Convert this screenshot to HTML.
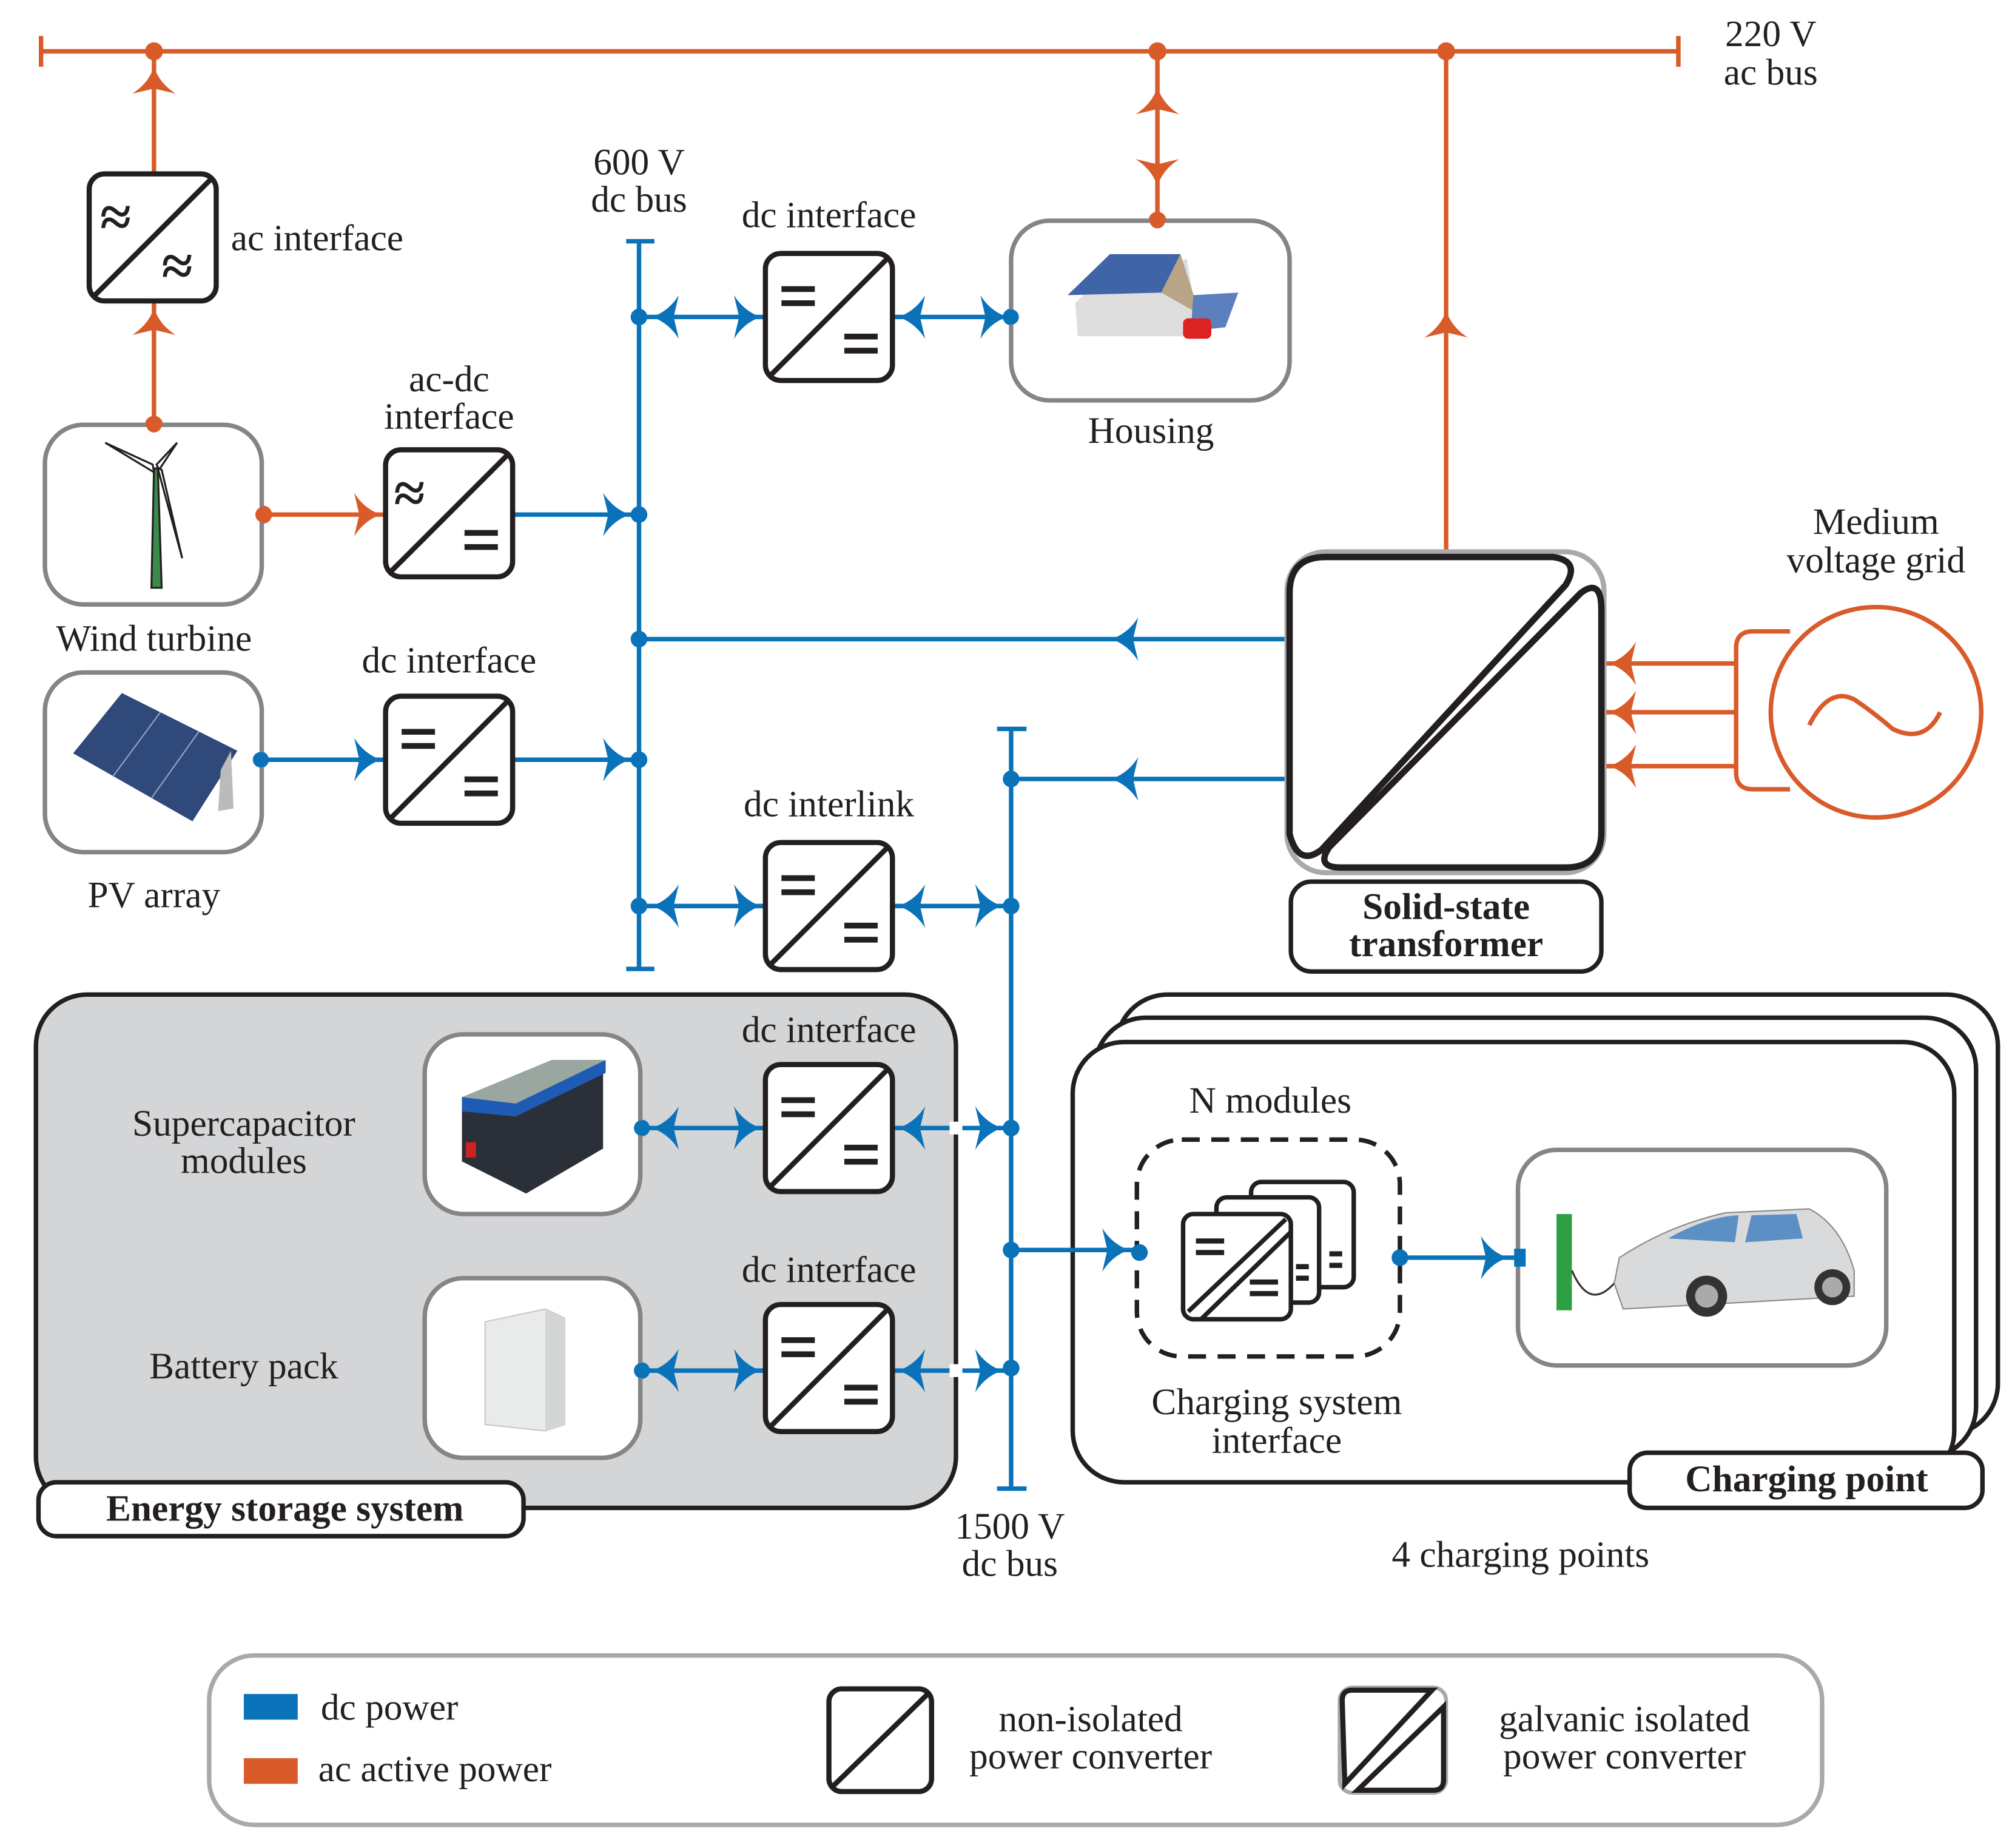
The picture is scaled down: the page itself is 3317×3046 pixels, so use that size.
<!DOCTYPE html>
<html><head><meta charset="utf-8"><style>
html,body{margin:0;padding:0;background:#fff;}
svg{display:block;}
text{font-family:"Liberation Serif",serif;fill:#231f20;}
</style></head><body>
<svg width="3317" height="3046" viewBox="0 0 1568 1440" preserveAspectRatio="none" xmlns="http://www.w3.org/2000/svg">
<defs>
<path id="ar" d="M0,0 C-9,-3 -16,-9 -21,-17 L-17,0 L-21,17 C-16,9 -9,3 0,0Z"/>
<g id="cv">
<rect x="1.5" y="1.5" width="99" height="99" rx="12" fill="#fff" stroke="#231f20" stroke-width="4"/>
<line x1="6" y1="96" x2="96" y2="6" stroke="#231f20" stroke-width="4"/>
</g>
<g id="eqTL"><rect x="14" y="27" width="26" height="4.5" fill="#231f20"/><rect x="14" y="38" width="26" height="4.5" fill="#231f20"/></g>
<g id="eqBR"><rect x="63" y="64" width="26" height="4.5" fill="#231f20"/><rect x="63" y="75" width="26" height="4.5" fill="#231f20"/></g>
</defs>
<rect width="1568" height="1440" fill="#fff"/>

<!-- ESS background -->
<rect x="28" y="775" width="717" height="400" rx="40" fill="#d4d5d7" stroke="#231f20" stroke-width="3.5"/>

<!-- Charging point stack -->
<g fill="#fff" stroke="#231f20" stroke-width="3.5">
<rect x="870" y="775" width="687" height="343" rx="40"/>
<rect x="853" y="793" width="687" height="343" rx="40"/>
<rect x="836" y="812" width="687" height="343" rx="40"/>
</g>
<rect x="886" y="888" width="205" height="169" rx="35" fill="none" stroke="#231f20" stroke-width="3.5" stroke-dasharray="14,9"/>
<g stroke="#231f20" stroke-width="3.5" fill="#fff">
<rect x="975" y="921" width="80" height="82" rx="8"/>
<rect x="948" y="933" width="80" height="82" rx="8"/>
<rect x="922" y="946" width="84" height="82" rx="8"/>
</g>
<g stroke="#231f20" stroke-width="3.5">
<line x1="926" y1="1022" x2="1002" y2="950"/><line x1="936" y1="1028" x2="1006" y2="960"/>
</g>
<g fill="#231f20">
<rect x="932" y="965" width="22" height="4"/><rect x="932" y="974" width="22" height="4"/>
<rect x="974" y="997" width="22" height="4"/><rect x="974" y="1006" width="22" height="4"/>
<rect x="1010" y="985" width="10" height="4"/><rect x="1010" y="994" width="10" height="4"/>
<rect x="1036" y="975" width="10" height="4"/><rect x="1036" y="984" width="10" height="4"/>
</g>
<rect x="1183" y="896" width="287" height="168" rx="30" fill="#fff" stroke="#858585" stroke-width="3.5"/>
<!-- charger + car -->
<rect x="1213" y="946" width="12" height="75" fill="#2ea043"/>
<path d="M1225,990 Q1240,1025 1262,995" fill="none" stroke="#333" stroke-width="1.5"/>
<g>
<path d="M1258,1000 L1262,980 Q1300,955 1345,945 L1410,942 Q1435,955 1445,990 L1445,1010 L1265,1020 Z" fill="#d9dadb" stroke="#888"/>
<path d="M1300,965 Q1330,948 1355,947 L1352,968 Z" fill="#5c8fc4"/>
<path d="M1365,947 L1400,946 L1405,965 L1360,968 Z" fill="#5c8fc4"/>
<circle cx="1330" cy="1010" r="16" fill="#333"/><circle cx="1330" cy="1010" r="9" fill="#aaa"/>
<circle cx="1428" cy="1003" r="14" fill="#333"/><circle cx="1428" cy="1003" r="8" fill="#aaa"/>
</g>

<!-- ac bus -->
<g stroke="#d95b2a" stroke-width="3.5" fill="none">
<line x1="32" y1="40" x2="1308" y2="40"/>
<line x1="32" y1="28" x2="32" y2="52"/>
<line x1="1308" y1="28" x2="1308" y2="52"/>
<line x1="120" y1="40" x2="120" y2="331"/>
<line x1="902" y1="40" x2="902" y2="172"/>
<line x1="1127" y1="40" x2="1127" y2="432"/>
<line x1="205" y1="401" x2="299" y2="401"/>
<line x1="1250" y1="517" x2="1353" y2="517"/>
<line x1="1250" y1="555" x2="1353" y2="555"/>
<line x1="1250" y1="597" x2="1353" y2="597"/>
<path d="M1395,492 L1366,492 Q1353,492 1353,505 L1353,602 Q1353,615 1366,615 L1395,615"/>
<ellipse cx="1462" cy="555" rx="82" ry="82"/>
<path d="M1410,565 Q1425,535 1445,545 Q1460,555 1475,568 Q1500,580 1512,555"/>
</g>
<g fill="#d95b2a">
<circle cx="120" cy="40" r="7"/><circle cx="902" cy="40" r="7"/><circle cx="1127" cy="40" r="7"/>
<circle cx="120" cy="331" r="7"/><circle cx="902" cy="172" r="7"/><circle cx="205" cy="401" r="7"/>
<use href="#ar" transform="translate(120,52) rotate(-90)"/>
<use href="#ar" transform="translate(120,240) rotate(-90)"/>
<use href="#ar" transform="translate(902,68) rotate(-90)"/>
<use href="#ar" transform="translate(902,145) rotate(90)"/>
<use href="#ar" transform="translate(1127,242) rotate(-90)"/>
<use href="#ar" transform="translate(297,401)"/>
<use href="#ar" transform="translate(1254,517) rotate(180)"/>
<use href="#ar" transform="translate(1254,555) rotate(180)"/>
<use href="#ar" transform="translate(1254,597) rotate(180)"/>
</g>

<!-- dc lines -->
<g stroke="#0a72b9" stroke-width="3.5" fill="none">
<line x1="498" y1="188" x2="498" y2="755"/>
<line x1="488" y1="188" x2="510" y2="188"/><line x1="488" y1="755" x2="510" y2="755"/>
<line x1="788" y1="568" x2="788" y2="1160"/>
<line x1="777" y1="568" x2="800" y2="568"/><line x1="777" y1="1160" x2="800" y2="1160"/>
<line x1="498" y1="247" x2="788" y2="247"/>
<line x1="401" y1="401" x2="498" y2="401"/>
<line x1="498" y1="498" x2="1003" y2="498"/>
<line x1="203" y1="592" x2="498" y2="592"/>
<line x1="498" y1="706" x2="788" y2="706"/>
<line x1="788" y1="607" x2="1003" y2="607"/>
<line x1="500" y1="879" x2="788" y2="879"/>
<line x1="500" y1="1068" x2="788" y2="1068"/>
<line x1="788" y1="974" x2="888" y2="974"/>
<line x1="1091" y1="980" x2="1183" y2="980"/>
</g>
<g fill="#0a72b9">
<circle cx="498" cy="247" r="6.5"/><circle cx="498" cy="401" r="6.5"/><circle cx="498" cy="498" r="6.5"/>
<circle cx="498" cy="592" r="6.5"/><circle cx="498" cy="706" r="6.5"/><circle cx="788" cy="247" r="6.5"/>
<circle cx="203" cy="592" r="6.5"/>
<circle cx="788" cy="607" r="6.5"/><circle cx="788" cy="706" r="6.5"/><circle cx="788" cy="879" r="6.5"/>
<circle cx="788" cy="974" r="6.5"/><circle cx="788" cy="1066" r="6.5"/>
<circle cx="500" cy="879" r="6.5"/><circle cx="500" cy="1068" r="6.5"/>
<circle cx="888" cy="976" r="6.5"/><circle cx="1091" cy="980" r="6.5"/>
<rect x="1180" y="973" width="9" height="14"/>
<use href="#ar" transform="translate(508,247) rotate(180)"/>
<use href="#ar" transform="translate(593,247)"/>
<use href="#ar" transform="translate(700,247) rotate(180)"/>
<use href="#ar" transform="translate(785,247)"/>
<use href="#ar" transform="translate(491,401)"/>
<use href="#ar" transform="translate(866,498) rotate(180)"/>
<use href="#ar" transform="translate(297,592)"/>
<use href="#ar" transform="translate(491,592)"/>
<use href="#ar" transform="translate(508,706) rotate(180)"/>
<use href="#ar" transform="translate(593,706)"/>
<use href="#ar" transform="translate(700,706) rotate(180)"/>
<use href="#ar" transform="translate(781,706)"/>
<use href="#ar" transform="translate(866,607) rotate(180)"/>
<use href="#ar" transform="translate(508,879) rotate(180)"/>
<use href="#ar" transform="translate(593,879)"/>
<use href="#ar" transform="translate(700,879) rotate(180)"/>
<use href="#ar" transform="translate(781,879)"/>
<use href="#ar" transform="translate(508,1068) rotate(180)"/>
<use href="#ar" transform="translate(593,1068)"/>
<use href="#ar" transform="translate(700,1068) rotate(180)"/>
<use href="#ar" transform="translate(781,1068)"/>
<use href="#ar" transform="translate(880,974)"/>
<use href="#ar" transform="translate(1175,980)"/>
</g>
<rect x="740" y="874" width="10" height="10" fill="#fff"/>
<rect x="740" y="1063" width="10" height="10" fill="#fff"/>

<!-- converters -->
<g transform="translate(68,134)"><use href="#cv"/><text x="10" y="50" font-size="44" font-weight="bold">≈</text><text x="58" y="88" font-size="44" font-weight="bold">≈</text></g>
<g transform="translate(299,349)"><use href="#cv"/><text x="8" y="50" font-size="44" font-weight="bold">≈</text><use href="#eqBR"/></g>
<g transform="translate(299,541)"><use href="#cv"/><use href="#eqTL"/><use href="#eqBR"/></g>
<g transform="translate(595,196)"><use href="#cv"/><use href="#eqTL"/><use href="#eqBR"/></g>
<g transform="translate(595,655)"><use href="#cv"/><use href="#eqTL"/><use href="#eqBR"/></g>
<g transform="translate(595,828)"><use href="#cv"/><use href="#eqTL"/><use href="#eqBR"/></g>
<g transform="translate(595,1015)"><use href="#cv"/><use href="#eqTL"/><use href="#eqBR"/></g>

<!-- image boxes -->
<g fill="#fff" stroke="#858585" stroke-width="3.5">
<rect x="35" y="331" width="169" height="140" rx="30"/>
<rect x="35" y="524" width="169" height="140" rx="30"/>
<rect x="788" y="172" width="217" height="140" rx="30"/>
<rect x="331" y="806" width="168" height="140" rx="30"/>
<rect x="331" y="996" width="168" height="140" rx="30"/>
</g>
<circle cx="120" cy="331" r="6" fill="#d95b2a"/>
<circle cx="902" cy="172" r="6" fill="#d95b2a"/>
<circle cx="205" cy="401" r="6" fill="#d95b2a"/>
<circle cx="203" cy="592" r="6" fill="#0a72b9"/>
<circle cx="788" cy="247" r="6" fill="#0a72b9"/>
<circle cx="500" cy="879" r="6" fill="#0a72b9"/>
<circle cx="500" cy="1068" r="6" fill="#0a72b9"/>
<!-- wind turbine -->
<g stroke="#231f20" stroke-width="1.5" fill="#fff">
<path d="M118,458 L120,365 L123,365 L126,458 Z" fill="#3a8a4a"/>
<path d="M120,368 L82,345 L119,362 Z"/>
<path d="M122,362 L138,345 L124,366 Z"/>
<path d="M123,365 L142,435 L126,366 Z"/>
</g>
<!-- PV -->
<g>
<polygon points="95,540 185,585 150,640 57,587" fill="#2f4a7a"/>
<g stroke="#8fa6c8" stroke-width="1">
<line x1="125" y1="555" x2="88" y2="605"/><line x1="155" y1="570" x2="118" y2="622"/>
</g>
<polygon points="172,600 180,585 182,630 170,632" fill="#bbb"/>
</g>
<!-- house -->
<g>
<polygon points="838,236 870,205 925,202 935,262 840,262" fill="#dedede"/>
<polygon points="832,230 865,198 920,198 905,228" fill="#3f64a8"/>
<polygon points="905,228 920,198 935,245" fill="#b9a487"/>
<polygon points="930,230 965,228 955,255 928,258" fill="#5c80bd"/>
<rect x="922" y="248" width="22" height="16" rx="4" fill="#d22"/>
</g>
<!-- supercap -->
<g>
<polygon points="360,855 430,826 470,826 470,895 410,930 360,905" fill="#2b2f38"/>
<polygon points="360,855 430,826 472,826 402,860" fill="#9aa6a0"/>
<path d="M360,855 L402,860 L402,870 L360,866 Z" fill="#1e5bb5"/>
<path d="M402,860 L472,826 L472,836 L402,870 Z" fill="#1e5bb5"/>
<rect x="363" y="890" width="8" height="12" fill="#c22"/>
</g>
<!-- battery cabinet -->
<g>
<polygon points="378,1030 425,1020 440,1027 440,1110 425,1115 378,1110" fill="#e9eaea" stroke="#c8c8c8"/>
<polygon points="425,1020 440,1027 440,1110 425,1115" fill="#d4d5d5"/>
</g>

<!-- SST -->
<rect x="1003" y="430" width="247" height="250" rx="30" fill="#fff" stroke="#a7a9ac" stroke-width="4"/>
<g fill="none" stroke="#231f20" stroke-width="5" stroke-linejoin="round">
<path d="M1005,462 Q1005,434 1033,434 L1210,434 Q1232,437 1220,456 L1030,662 Q1012,676 1005,650 Z"/>
<path d="M1232,462 Q1248,450 1248,475 L1248,648 Q1248,676 1220,676 L1045,676 Q1025,676 1036,660 Z"/>
</g>
<rect x="1006" y="687" width="242" height="70" rx="16" fill="#fff" stroke="#231f20" stroke-width="3.5"/>

<!-- label boxes -->
<rect x="30" y="1155" width="378" height="42" rx="14" fill="#fff" stroke="#231f20" stroke-width="3.5"/>
<rect x="1270" y="1132" width="275" height="43" rx="14" fill="#fff" stroke="#231f20" stroke-width="3.5"/>

<!-- legend -->
<rect x="163" y="1290" width="1257" height="132" rx="35" fill="#fff" stroke="#a7a9ac" stroke-width="3.5"/>
<rect x="190" y="1320" width="42" height="20" fill="#0a72b9"/>
<rect x="190" y="1370" width="42" height="20" fill="#d95b2a"/>
<g fill="#fff" stroke="#231f20" stroke-width="4">
<rect x="646" y="1316" width="80" height="80" rx="10"/>
<line x1="649" y1="1392" x2="723" y2="1320"/>
</g>
<rect x="1044" y="1315" width="83" height="82" rx="10" fill="#fff" stroke="#a7a9ac" stroke-width="3"/>
<g fill="none" stroke="#231f20" stroke-width="4">
<path d="M1046,1325 Q1046,1317 1054,1317 L1116,1317 L1048,1390 Z"/>
<path d="M1125,1330 L1125,1387 Q1125,1395 1117,1395 L1058,1395 Z"/>
</g>

<!-- text -->
<g font-size="29">
<text x="1380" y="36" text-anchor="middle">220 V</text>
<text x="1380" y="66" text-anchor="middle">ac bus</text>
<text x="498" y="136" text-anchor="middle">600 V</text>
<text x="498" y="165" text-anchor="middle">dc bus</text>
<text x="180" y="195">ac interface</text>
<text x="646" y="177" text-anchor="middle">dc interface</text>
<text x="350" y="305" text-anchor="middle">ac-dc</text>
<text x="350" y="334" text-anchor="middle">interface</text>
<text x="897" y="345" text-anchor="middle">Housing</text>
<text x="120" y="507" text-anchor="middle">Wind turbine</text>
<text x="350" y="524" text-anchor="middle">dc interface</text>
<text x="120" y="707" text-anchor="middle">PV array</text>
<text x="646" y="636" text-anchor="middle">dc interlink</text>
<text x="1462" y="416" text-anchor="middle">Medium</text>
<text x="1462" y="446" text-anchor="middle">voltage grid</text>
<text x="646" y="812" text-anchor="middle">dc interface</text>
<text x="646" y="999" text-anchor="middle">dc interface</text>
<text x="190" y="885" text-anchor="middle">Supercapacitor</text>
<text x="190" y="914" text-anchor="middle">modules</text>
<text x="190" y="1074" text-anchor="middle">Battery pack</text>
<text x="990" y="867" text-anchor="middle">N modules</text>
<text x="995" y="1102" text-anchor="middle">Charging system</text>
<text x="995" y="1132" text-anchor="middle">interface</text>
<text x="787" y="1199" text-anchor="middle">1500 V</text>
<text x="787" y="1228" text-anchor="middle">dc bus</text>
<text x="1185" y="1221" text-anchor="middle">4 charging points</text>
<text x="250" y="1340">dc power</text>
<text x="248" y="1388">ac active power</text>
<text x="850" y="1349" text-anchor="middle">non-isolated</text>
<text x="850" y="1378" text-anchor="middle">power converter</text>
<text x="1266" y="1349" text-anchor="middle">galvanic isolated</text>
<text x="1266" y="1378" text-anchor="middle">power converter</text>
</g>
<g font-size="29" font-weight="bold">
<text x="1127" y="716" text-anchor="middle">Solid-state</text>
<text x="1127" y="745" text-anchor="middle">transformer</text>
<text x="222" y="1185" text-anchor="middle">Energy storage system</text>
<text x="1408" y="1162" text-anchor="middle">Charging point</text>
</g>
</svg>
</body></html>
